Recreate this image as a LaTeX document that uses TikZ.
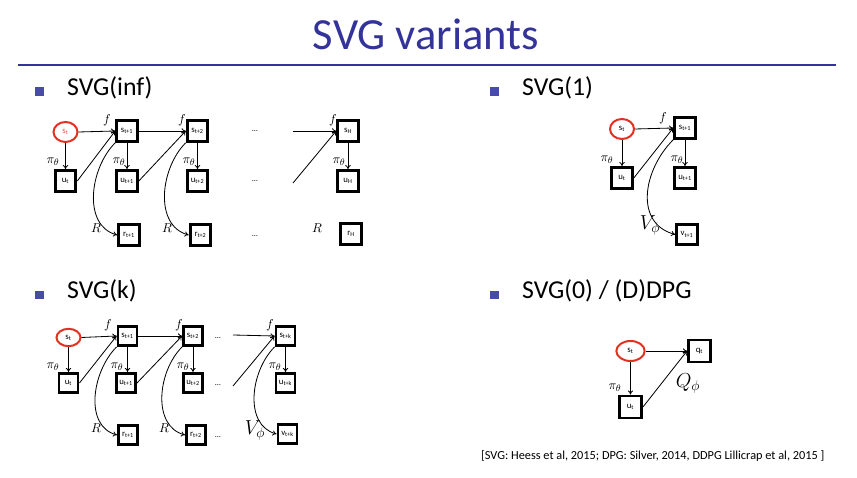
\documentclass[tikz,border=0pt]{standalone}
\usepackage{fontspec}
\setmainfont{Carlito}
\usepackage{amsmath, amssymb}
\usetikzlibrary{positioning, arrows.meta, shapes.geometric}
\definecolor{TitleColor}{RGB}{51,51,153}
\definecolor{BulletColor}{RGB}{72,76,168}
\definecolor{StateColor}{RGB}{228,48,32}
\tikzstyle{arrow} = [line width=0.7pt, black, -{To[length=3.5pt, width=4.5pt]}]
\tikzstyle{arc arrow} = [arrow, out=225, in=165]
\tikzset{
  state/.style={ellipse, draw=StateColor, line width=1.7pt, fill=white, minimum width=0.72cm, minimum height=0.6cm, inner sep=0pt, font=\fontsize{7.5}{8}\selectfont},
  var/.style={rectangle, draw=black, line width=2.5pt, fill=white, minimum size=0.62cm, inner sep=0pt, font=\fontsize{7.5}{8}\selectfont},
  bullet/.style={rectangle, fill=BulletColor, minimum size=0.26cm, inner sep=0pt},
  heading/.style={anchor=base west, font=\fontsize{22}{26}\selectfont},
  sym/.style={font=\fontsize{11}{13}\selectfont},
  bigsym/.style={font=\fontsize{17}{20}\selectfont},
  dots/.style={font=\fontsize{7}{8}\selectfont}
}
% variable with a small subscript, as set in the boxes
\newcommand{\vsub}[2]{#1\textsubscript{#2}}

\begin{document}
\begin{tikzpicture}[x=0.03cm, y=0.03cm]
  \useasboundingbox (0,0) rectangle (857,478);

  % Title and rule
  \node[anchor=base, text=TitleColor, font=\fontsize{38}{40}\selectfont] (title) at (426,428) {SVG variants};
  \draw[TitleColor, line width=2.5pt] (18,413) -- (836,413);

  % Headings
  \node[bullet] (bA) at (39.5,386.5) {};
  \node[heading] (hA) at (63,382) {SVG(inf)};
  \node[bullet] (bB) at (494.5,386.5) {};
  \node[heading] (hB) at (518,382) {SVG(1)};
  \node[bullet] (bC) at (39.5,183) {};
  \node[heading] (hC) at (63,179) {SVG(k)};
  \node[bullet] (bD) at (494.5,183) {};
  \node[heading] (hD) at (518,179) {SVG(0) / (D)DPG};

  % ---------- SVG(inf) ----------
  \node[state, text=StateColor!80] (sA0) at (65.5,346) {\vsub{s}{t}};
  \node[var] (sA1) at (127,347) {\vsub{s}{t+1}};
  \node[var] (sA2) at (197.5,347) {\vsub{s}{t+2}};
  \node[dots] (dA1) at (255,347) {\dots};
  \node[var] (sAH) at (348,347) {\vsub{s}{H}};
  \node[var] (uA0) at (65.5,297) {\vsub{u}{t}};
  \node[var] (uA1) at (127,297) {\vsub{u}{t+1}};
  \node[var] (uA2) at (197.5,297) {\vsub{u}{t+2}};
  \node[dots] (dA2) at (255,297) {\dots};
  \node[var] (uAH) at (348,297) {\vsub{u}{H}};
  \node[var] (rA1) at (129,243) {\vsub{r}{t+1}};
  \node[var] (rA2) at (200.5,243) {\vsub{r}{t+2}};
  \node[dots] (dA3) at (255,242) {\dots};
  \node[var] (rAH) at (351,244) {\vsub{r}{H}};
  \coordinate (inA1) at (293,347);
  \coordinate (inA2) at (293,295);

  \draw[arrow] (sA0.east) -- (sA1.west);
  \draw[arrow] (sA0) -- (uA0);
  \draw[arrow] (uA0.east) -- (sA1.west);
  \draw[arrow] (sA1) -- (uA1);
  \draw[arrow] (sA1) -- (sA2);
  \draw[arrow] (uA1.east) -- (sA2.west);
  \draw[arrow] (sA2) -- (uA2);
  \draw[arrow] (inA1) -- (sAH.west);
  \draw[arrow] (inA2) -- (sAH.west);
  \draw[arrow] (sAH) -- (uAH);
  \draw[arc arrow] (sA1.south west) to (rA1.west);
  \draw[arc arrow] (sA2.south west) to (rA2.west);

  \node[sym] (fA1) at (107,358) {$f$};
  \node[sym] (fA2) at (182,358) {$f$};
  \node[sym] (fAH) at (333,358) {$f$};
  \node[sym] (pA0) at (53,316) {$\pi_\theta$};
  \node[sym] (pA1) at (119,316) {$\pi_\theta$};
  \node[sym] (pA2) at (189,316) {$\pi_\theta$};
  \node[sym] (pAH) at (339,316) {$\pi_\theta$};
  \node[sym] (RA1) at (96,250) {$R$};
  \node[sym] (RA2) at (167,250) {$R$};
  \node[sym] (RAH) at (317,250) {$R$};

  % ---------- SVG(1) ----------
  \node[state] (sB0) at (622,349) {\vsub{s}{t}};
  \node[var] (sB1) at (685,350) {\vsub{s}{t+1}};
  \node[var] (uB0) at (622,300) {\vsub{u}{t}};
  \node[var] (uB1) at (685,300) {\vsub{u}{t+1}};
  \node[var] (vB1) at (687,243.5) {\vsub{v}{t+1}};

  \draw[arrow] (sB0.east) -- (sB1.west);
  \draw[arrow] (sB0) -- (uB0);
  \draw[arrow] (uB0.east) -- (sB1.west);
  \draw[arrow] (sB1) -- (uB1);
  \draw[arc arrow, looseness=1.15] (sB1.south west) to (vB1.west);

  \node[sym] (fB1) at (663,360) {$f$};
  \node[sym] (pB0) at (607,318) {$\pi_\theta$};
  \node[sym] (pB1) at (677,318) {$\pi_\theta$};
  \node[bigsym] (VB1) at (650,253) {$V_\phi$};

  % ---------- SVG(k) ----------
  \begin{scope}[var/.append style={minimum size=0.57cm}, state/.append style={minimum height=0.52cm}]
    \node[state] (sC0) at (68.5,140.5) {\vsub{s}{t}};
    \node[var] (sC1) at (127.5,142) {\vsub{s}{t+1}};
    \node[var] (sC2) at (193,142) {\vsub{s}{t+2}};
    \node[dots] (dC1) at (218,140) {\dots};
    \node[var] (sCK) at (285.5,142) {\vsub{s}{t+k}};
    \node[var] (uC0) at (68.5,95) {\vsub{u}{t}};
    \node[var] (uC1) at (126,95) {\vsub{u}{t+1}};
    \node[var] (uC2) at (193,95) {\vsub{u}{t+2}};
    \node[dots] (dC2) at (218,93) {\dots};
    \node[var] (uCK) at (285.5,95) {\vsub{u}{t+k}};
    \node[var] (rC1) at (128,43) {\vsub{r}{t+1}};
    \node[var] (rC2) at (196,43) {\vsub{r}{t+2}};
    \node[dots] (dC3) at (218,41) {\dots};
    \node[var] (vCK) at (287.5,44) {\vsub{v}{t+k}};
  \end{scope}
  \coordinate (inC1) at (233,143);
  \coordinate (inC2) at (233,92);

  \draw[arrow] (sC0.east) -- (sC1.west);
  \draw[arrow] (sC0) -- (uC0);
  \draw[arrow] (uC0.east) -- (sC1.west);
  \draw[arrow] (sC1) -- (sC1 |- uC1.north);
  \draw[arrow] (sC1) -- (sC2);
  \draw[arrow] (uC1.east) -- (sC2.west);
  \draw[arrow] (sC2) -- (uC2);
  \draw[arrow] (inC1) -- (sCK.west);
  \draw[arrow] (inC2) -- (sCK.west);
  \draw[arrow] (sCK) -- (uCK);
  \draw[arc arrow] (sC1.south west) to (rC1.west);
  \draw[arc arrow] (sC2.south west) to (rC2.west);
  \draw[arc arrow] (sCK.south west) to (vCK.west);

  \node[sym] (fC1) at (108,153) {$f$};
  \node[sym] (fC2) at (179,153) {$f$};
  \node[sym] (fCK) at (270,153) {$f$};
  \node[sym] (pC0) at (53,111) {$\pi_\theta$};
  \node[sym] (pC1) at (117,111) {$\pi_\theta$};
  \node[sym] (pC2) at (183,111) {$\pi_\theta$};
  \node[sym] (pCK) at (275,111) {$\pi_\theta$};
  \node[sym] (RC1) at (96,50) {$R$};
  \node[sym] (RC2) at (164,50) {$R$};
  \node[bigsym] (VCK) at (255,48) {$V_\phi$};

  % ---------- SVG(0) / (D)DPG ----------
  \node[state, minimum width=0.85cm] (sD0) at (630.5,127) {\vsub{s}{t}};
  \node[var, minimum size=0.66cm] (qD) at (699.5,127) {\vsub{q}{t}};
  \node[var, minimum size=0.66cm] (uD) at (630.5,71) {\vsub{u}{t}};

  \draw[arrow] (sD0.east) -- (qD.west);
  \draw[arrow] (sD0) -- (uD);
  \draw[arrow] (uD.east) -- (qD.west);

  \node[sym] (pD0) at (615,90) {$\pi_\theta$};
  \node[bigsym] (QD) at (688,95) {$Q_\phi$};

  % Citation
  \node[anchor=base west, font=\fontsize{10.5}{12}\selectfont] (cite) at (477,18) {[SVG: Heess et al, 2015; DPG: Silver, 2014, DDPG Lillicrap et al, 2015 ]};
\end{tikzpicture}
\end{document}
